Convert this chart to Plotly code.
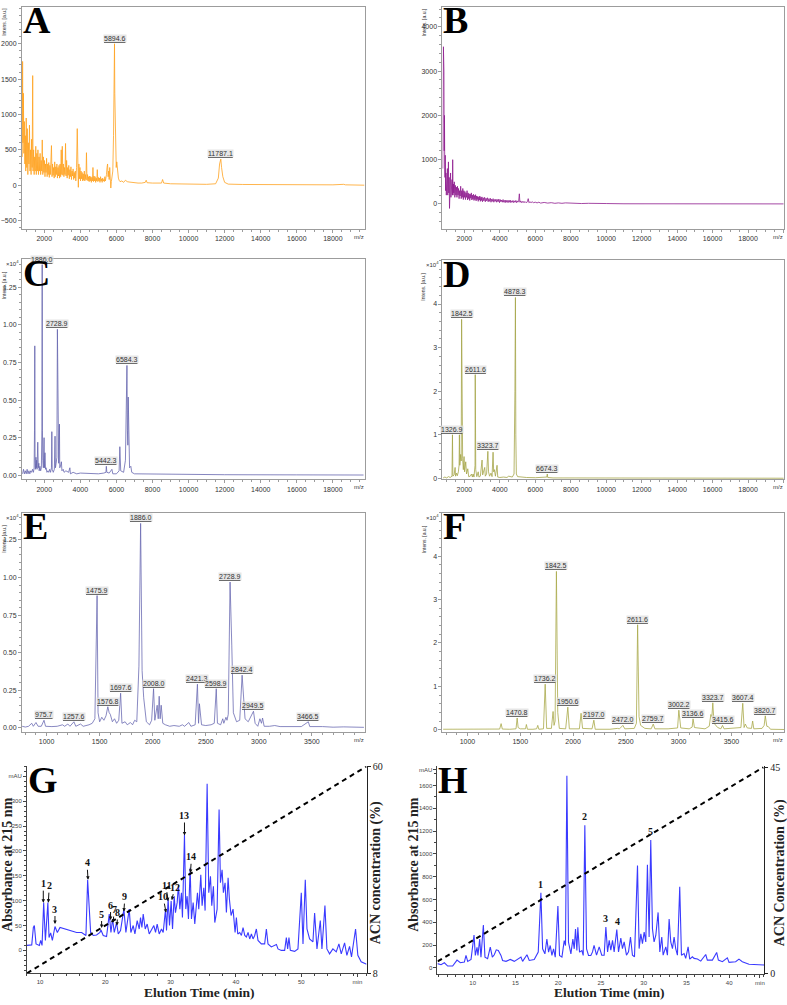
import plotly.graph_objects as go

# ---------------- data ----------------
# MALDI spectra: (m/z, intensity) pairs
A_SPEC = [(780,400),(800,1750),(820,600),(845,1300),(870,450),(900,900),(925,300),(950,700),(975,200),(1000,950),(1030,250),(1060,800),(1090,150),(1120,600),(1150,300),(1180,850),(1210,200),(1240,500),(1270,150),(1300,650),(1330,250),(1360,1550),(1380,200),(1410,500),(1440,150),(1470,400),(1500,200),(1530,550),(1560,150),(1590,450),(1620,200),(1650,500),(1680,150),(1710,400),(1740,200),(1770,450),(1800,150),(1830,350),(1860,200),(1890,640),(1920,150),(1950,400),(1980,180),(2010,350),(2040,120),(2070,300),(2100,180),(2130,380),(2160,120),(2190,300),(2220,150),(2250,320),(2280,110),(2310,280),(2340,150),(2370,300),(2400,560),(2430,120),(2460,300),(2490,140),(2520,250),(2550,100),(2580,330),(2610,120),(2640,260),(2670,150),(2700,300),(2730,100),(2760,250),(2790,130),(2820,280),(2850,100),(2880,300),(2910,120),(2940,500),(2970,150),(3000,550),(3030,140),(3060,300),(3090,120),(3120,250),(3150,150),(3180,590),(3210,130),(3240,350),(3270,100),(3300,250),(3330,140),(3360,280),(3390,90),(3420,220),(3450,120),(3480,260),(3510,80),(3540,200),(3570,130),(3600,230),(3630,80),(3660,180),(3690,100),(3720,200),(3750,60),(3790,250),(3830,800),(3850,150),(3870,400),(3890,-30),(3920,300),(3950,90),(3980,250),(4010,60),(4040,200),(4070,90),(4100,180),(4130,60),(4160,160),(4190,70),(4220,200),(4250,60),(4280,150),(4310,80),(4340,460),(4370,70),(4400,150),(4430,60),(4460,120),(4490,50),(4520,130),(4550,60),(4580,120),(4610,40),(4640,110),(4670,60),(4700,250),(4730,50),(4760,130),(4790,60),(4820,120),(4850,40),(4880,100),(4910,60),(4940,220),(4970,50),(5000,110),(5030,60),(5060,100),(5090,40),(5120,120),(5150,60),(5180,90),(5210,40),(5240,100),(5270,60),(5300,80),(5330,50),(5360,120),(5390,60),(5420,100),(5450,150),(5480,250),(5510,300),(5540,120),(5570,200),(5600,80),(5630,250),(5660,100),(5690,-40),(5720,50),(5760,100),(5800,200),(5840,700),(5870,1500),(5895,2000),(5910,1300),(5935,800),(5960,400),(5990,250),(6020,330),(6050,200),(6080,150),(6110,100),(6150,70),(6200,50),(6300,60),(6400,40),(6500,70),(6600,50),(6700,45),(6800,40),(7000,35),(7200,30),(7400,30),(7600,40),(7650,70),(7700,35),(8000,30),(8300,25),(8500,30),(8560,80),(8620,30),(9000,20),(10000,15),(11000,12),(11500,20),(11650,100),(11720,300),(11787,370),(11830,250),(11900,120),(12000,40),(12200,15),(13000,10),(14000,8),(16000,5),(18000,5),(18600,12),(18700,5),(19750,0)]
A_LABELS = [5894.6, 11787.1]
A_LABEL_Y = [2000, 370]

B_SPEC = [(780,800),(800,1800),(815,3550),(830,2900),(845,3000),(860,1200),(875,2000),(890,900),(905,600),(920,1100),(940,300),(960,700),(980,200),(1000,650),(1020,350),(1040,800),(1060,200),(1080,500),(1100,950),(1120,250),(1140,600),(1160,-100),(1180,500),(1200,300),(1220,700),(1240,150),(1260,450),(1280,250),(1300,550),(1320,200),(1340,1000),(1360,200),(1380,450),(1400,250),(1430,500),(1460,150),(1490,420),(1520,200),(1550,380),(1580,150),(1610,400),(1640,200),(1670,350),(1700,120),(1730,300),(1760,180),(1790,400),(1820,120),(1850,300),(1880,150),(1910,350),(1940,100),(1970,300),(2000,150),(2030,280),(2060,100),(2090,250),(2120,150),(2150,300),(2180,90),(2210,250),(2240,120),(2270,230),(2300,80),(2330,220),(2360,130),(2390,250),(2420,90),(2450,200),(2480,110),(2510,220),(2540,80),(2570,190),(2600,100),(2630,210),(2660,70),(2690,180),(2720,100),(2750,170),(2780,60),(2810,160),(2840,90),(2870,180),(2900,60),(2930,150),(2960,80),(2990,160),(3020,50),(3060,140),(3100,70),(3140,150),(3180,50),(3220,130),(3260,70),(3300,140),(3340,50),(3380,120),(3420,60),(3460,130),(3500,40),(3540,110),(3580,60),(3620,120),(3660,40),(3700,100),(3740,60),(3780,110),(3820,40),(3860,100),(3900,50),(3940,110),(3980,30),(4020,100),(4060,50),(4100,90),(4140,40),(4180,100),(4220,40),(4260,80),(4300,30),(4340,90),(4380,40),(4420,80),(4460,30),(4500,80),(4540,40),(4580,90),(4620,30),(4660,70),(4700,40),(4740,80),(4780,30),(4820,70),(4860,40),(4900,80),(4940,30),(4980,70),(5020,40),(5060,60),(5100,230),(5130,40),(5170,70),(5210,30),(5260,60),(5310,30),(5360,60),(5410,30),(5460,50),(5510,30),(5560,60),(5600,120),(5640,30),(5700,50),(5760,30),(5820,50),(5900,30),(6000,40),(6100,25),(6200,40),(6300,20),(6500,35),(6700,20),(6900,30),(7100,15),(7300,25),(7500,15),(7700,25),(8000,15),(8300,20),(8600,10),(9000,15),(9500,8),(10000,10),(11000,5),(12000,6),(14000,3),(16000,3),(18000,2),(20000,2)]

C_SPEC = [(800,0.01),(850,0.04),(900,0.01),(950,0.03),(1000,0.01),(1050,0.04),(1100,0.01),(1150,0.03),(1200,0.01),(1250,0.03),(1300,0.02),(1350,0.04),(1400,0.02),(1440,0.05),(1460,0.3),(1475.9,0.86),(1490,0.1),(1510,0.04),(1540,0.12),(1560,0.05),(1580,0.1),(1600,0.04),(1640,0.22),(1670,0.05),(1700,0.08),(1720,0.03),(1760,0.06),(1800,0.03),(1840,0.05),(1870,0.3),(1886,1.40),(1900,0.3),(1920,0.1),(1950,0.05),(1990,0.25),(2010,0.05),(2040,0.15),(2070,0.04),(2100,0.05),(2150,0.02),(2200,0.03),(2250,0.02),(2300,0.04),(2350,0.02),(2400,0.05),(2421,0.29),(2440,0.04),(2500,0.02),(2560,0.04),(2598,0.26),(2620,0.05),(2660,0.08),(2700,0.12),(2729,0.97),(2745,0.57),(2770,0.1),(2800,0.08),(2842,0.34),(2860,0.05),(2900,0.06),(2950,0.09),(2980,0.03),(3050,0.04),(3100,0.02),(3200,0.03),(3350,0.02),(3420,0.05),(3450,0.01),(3600,0.02),(3800,0.01),(4000,0.015),(4500,0.01),(5000,0.01),(5300,0.015),(5420,0.02),(5442,0.06),(5470,0.02),(5600,0.015),(5750,0.04),(5800,0.01),(6000,0.01),(6150,0.03),(6190,0.19),(6240,0.03),(6400,0.02),(6500,0.1),(6560,0.5),(6584,0.73),(6610,0.3),(6635,0.2),(6655,0.52),(6690,0.2),(6730,0.05),(6800,0.06),(6850,0.02),(7000,0.01),(8000,0.008),(8500,0.01),(9000,0.005),(12000,0.004),(16000,0.003),(19700,0.002)]
C_LABELS = [1886.0, 2728.9, 5442.3, 6584.3]
C_LABEL_Y = [1.40, 0.97, 0.06, 0.73]

D_SPEC = [(800,0.01),(900,0.03),(1000,0.01),(1100,0.04),(1200,0.02),(1300,0.05),(1326.9,1.0),(1350,0.05),(1420,0.08),(1476,0.25),(1500,0.05),(1560,0.12),(1600,0.06),(1660,0.15),(1700,0.3),(1719,1.0),(1740,0.3),(1790,0.55),(1820,0.4),(1842.5,3.65),(1870,0.5),(1900,0.45),(1940,0.2),(1980,0.5),(2010,0.15),(2075,0.38),(2120,0.1),(2190,0.22),(2240,0.04),(2330,0.05),(2400,0.1),(2450,0.03),(2490,0.1),(2540,0.03),(2600,0.3),(2611.6,2.38),(2640,0.2),(2700,0.04),(2780,0.15),(2820,0.03),(2900,0.05),(2997,0.42),(3030,0.08),(3146,0.25),(3180,0.05),(3250,0.1),(3323.7,0.62),(3360,0.15),(3420,0.05),(3500,0.12),(3560,0.04),(3617,0.6),(3650,0.15),(3690,0.2),(3750,0.05),(3842,0.3),(3880,0.03),(4000,0.02),(4200,0.03),(4400,0.02),(4500,0.05),(4700,0.03),(4800,0.1),(4850,2.0),(4878.3,4.15),(4900,1.0),(4930,0.1),(5000,0.04),(5200,0.03),(5500,0.02),(6000,0.015),(6500,0.02),(6650,0.03),(6674.3,0.1),(6700,0.02),(7000,0.01),(8000,0.01),(10000,0.008),(14000,0.005),(20000,0.003)]
D_LABELS = [1326.9, 1842.5, 2611.6, 3323.7, 4878.3, 6674.3]
D_LABEL_Y = [1.0, 3.65, 2.38, 0.62, 4.15, 0.1]

E_SPEC = [(770,0.01),(800,0.005),(830,0.01),(860,0.03),(875,0.01),(900,0.035),(920,0.01),(950,0.01),(975.7,0.05),(990,0.01),(1050,0.008),(1100,0.01),(1150,0.02),(1170,0.01),(1200,0.025),(1220,0.01),(1257.6,0.04),(1275,0.01),(1320,0.025),(1345,0.01),(1400,0.02),(1430,0.03),(1455,0.06),(1475.9,0.88),(1485,0.1),(1500,0.04),(1520,0.07),(1540,0.05),(1560,0.08),(1576.8,0.14),(1590,0.1),(1600,0.09),(1620,0.04),(1640,0.06),(1660,0.03),(1680,0.05),(1697.6,0.23),(1710,0.03),(1740,0.04),(1760,0.02),(1790,0.035),(1810,0.02),(1830,0.05),(1850,0.04),(1870,0.41),(1886.0,1.36),(1900,0.38),(1915,0.2),(1940,0.04),(1970,0.02),(1990,0.05),(2008.0,0.26),(2020,0.05),(2042,0.15),(2052,0.06),(2061,0.21),(2070,0.06),(2080,0.15),(2095,0.03),(2120,0.02),(2160,0.01),(2200,0.015),(2250,0.01),(2280,0.02),(2300,0.01),(2340,0.035),(2360,0.01),(2400,0.02),(2421.3,0.29),(2432,0.03),(2440,0.16),(2460,0.02),(2500,0.015),(2550,0.02),(2580,0.03),(2598.9,0.26),(2610,0.03),(2640,0.02),(2660,0.06),(2670,0.03),(2690,0.07),(2700,0.05),(2712,0.09),(2728.9,0.97),(2745,0.55),(2760,0.1),(2790,0.04),(2820,0.05),(2842.4,0.35),(2855,0.21),(2870,0.06),(2900,0.04),(2949.5,0.11),(2965,0.03),(2990,0.01),(3010,0.06),(3025,0.03),(3035,0.065),(3050,0.01),(3100,0.01),(3150,0.015),(3200,0.008),(3300,0.01),(3400,0.008),(3466.5,0.04),(3480,0.008),(3600,0.008),(3700,0.004),(3800,0.006),(3990,0.003)]
E_LABELS = [975.7, 1257.6, 1475.9, 1576.8, 1697.6, 1886.0, 2008.0, 2421.3, 2598.9, 2728.9, 2842.4, 2949.5, 3466.5]
E_LABEL_Y = [0.05, 0.04, 0.88, 0.14, 0.23, 1.36, 0.26, 0.29, 0.26, 0.97, 0.35, 0.11, 0.04]

F_SPEC = [(770,0.01),(900,0.01),(1000,0.005),(1100,0.01),(1200,0.01),(1305,0.015),(1319,0.14),(1330,0.015),(1400,0.01),(1460,0.02),(1470.8,0.27),(1480,0.05),(1500,0.02),(1550,0.02),(1558,0.12),(1568,0.01),(1620,0.01),(1655,0.02),(1666,0.1),(1676,0.01),(1720,0.02),(1736.2,1.05),(1750,0.03),(1795,0.03),(1811,0.42),(1820,0.1),(1830,0.2),(1842.5,3.65),(1855,0.4),(1870,0.03),(1930,0.02),(1950.6,0.52),(1965,0.02),(2060,0.02),(2076,0.38),(2090,0.03),(2180,0.02),(2197.0,0.22),(2210,0.01),(2350,0.01),(2420,0.03),(2440,0.02),(2472.0,0.1),(2490,0.02),(2580,0.03),(2600,0.15),(2611.6,2.42),(2625,0.3),(2640,0.1),(2680,0.03),(2740,0.02),(2759.7,0.13),(2775,0.02),(2900,0.02),(2990,0.04),(3002.2,0.45),(3020,0.04),(3100,0.02),(3128,0.06),(3136.6,0.25),(3150,0.05),(3250,0.02),(3290,0.08),(3305,0.35),(3315,0.3),(3323.7,0.62),(3335,0.15),(3350,0.1),(3370,0.05),(3400,0.02),(3415.6,0.1),(3430,0.02),(3550,0.03),(3590,0.05),(3607.4,0.61),(3620,0.05),(3632,0.13),(3650,0.04),(3690,0.03),(3701,0.2),(3712,0.02),(3790,0.03),(3810,0.1),(3820.7,0.32),(3835,0.08),(3850,0.07),(3870,0.01),(3998,0.005)]
F_LABELS = [1470.8, 1736.2, 1842.5, 1950.6, 2197.0, 2472.0, 2611.6, 2759.7, 3002.2, 3136.6, 3323.7, 3415.6, 3607.4, 3820.7]
F_LABEL_Y = [0.27, 1.05, 3.65, 0.52, 0.22, 0.1, 2.42, 0.13, 0.45, 0.25, 0.62, 0.1, 0.61, 0.32]

# RP-HPLC chromatograms: (time min, absorbance mAU) pairs
G_CHROM = [(8.0,10),(8.22,10),(8.73,11),(8.98,46),(9.13,50),(9.39,13),(9.9,10),(10.1,20),(10.31,10),(10.56,96),(10.82,20),(11.2,96),(11.38,26),(11.63,35),(11.89,20),(12.29,48),(12.65,36),(13.06,46),(13.57,44),(14.08,43),(14.84,40),(15.61,36),(16.37,36),(16.63,33),(17.03,30),(17.29,142),(17.54,76),(17.75,36),(18.15,30),(18.66,31),(19.17,36),(19.33,41),(19.68,30),(20.19,28),(20.6,73),(20.86,36),(21.11,63),(21.37,36),(21.72,56),(21.98,33),(22.33,40),(22.84,83),(23.15,36),(23.66,83),(23.91,36),(24.27,50),(24.53,33),(24.88,60),(25.19,43),(25.39,66),(25.6,46),(25.8,73),(26.11,43),(26.41,53),(26.72,33),(27.07,43),(27.43,50),(27.69,36),(27.94,53),(28.25,33),(28.6,43),(28.86,36),(29.22,83),(29.37,40),(29.62,103),(29.83,50),(30.08,99),(30.29,43),(30.54,109),(30.74,76),(31.0,96),(31.2,132),(31.41,83),(31.66,116),(31.81,66),(32.12,232),(32.32,83),(32.53,109),(32.73,63),(32.99,166),(33.19,63),(33.45,96),(33.7,53),(34.11,116),(34.31,83),(34.62,152),(34.82,90),(35.08,126),(35.28,80),(35.59,335),(35.84,116),(36.1,149),(36.3,90),(36.55,129),(36.76,56),(37.12,83),(37.42,283),(37.63,136),(37.88,162),(38.08,116),(38.34,136),(38.54,76),(38.8,146),(39.0,103),(39.26,70),(39.56,83),(39.87,36),(40.07,66),(40.28,33),(40.58,36),(40.84,30),(41.09,46),(41.35,30),(41.6,27),(41.86,36),(42.11,23),(42.37,33),(42.62,23),(42.87,30),(43.13,43),(43.38,20),(43.89,13),(44.4,13),(44.66,43),(44.91,13),(45.42,7),(45.93,10),(46.2,12),(46.44,3),(46.95,0),(47.46,0),(47.72,26),(47.92,3),(48.12,26),(48.33,0),(48.99,-2),(49.5,3),(50.01,116),(50.27,13),(50.62,142),(50.88,43),(51.28,23),(51.79,17),(52.05,75),(52.41,3),(52.92,60),(53.17,3),(53.63,90),(53.93,3),(54.34,-7),(54.85,3),(55.36,-3),(55.77,13),(56.13,-7),(56.64,15),(56.99,-10),(57.4,8),(57.7,-13),(58.32,43),(58.67,-10),(59.18,-23),(59.85,-28),(60.0,-28)]
G_GRAD_T = [8, 60]
G_GRAD_ACN = [8, 60]
G_PEAK_T = [10.5, 11.27, 12.29, 17.35, 19.43, 20.8, 21.2, 21.77, 22.84, 29.3, 29.6, 30.18, 32.12, 33.04]
G_PEAK_MAU = [96, 96, 53, 142, 45, 61, 56, 50, 78, 76, 99, 101, 231, 156]
G_PEAK_TEXT = ['1', '2', '3', '4', '5', '6', '7', '8', '9', '10', '11', '12', '13', '14']

H_CHROM = [(5.88,38),(6.3,29),(6.69,46),(7.08,17),(7.66,17),(8.17,69),(8.56,46),(9.03,52),(9.22,110),(9.42,58),(9.81,75),(10.16,289),(10.31,110),(10.51,180),(10.62,110),(10.82,254),(10.97,95),(11.25,376),(11.44,95),(11.75,81),(12.06,182),(12.3,95),(12.53,116),(12.76,159),(13.0,153),(13.31,110),(13.5,66),(13.9,58),(14.4,75),(14.87,58),(15.65,95),(15.84,58),(16.35,116),(16.62,66),(17.2,75),(17.67,139),(17.98,660),(18.18,168),(18.45,124),(18.68,254),(18.88,139),(19.07,197),(19.27,110),(19.46,168),(19.66,95),(19.97,543),(20.16,110),(20.44,95),(20.71,240),(20.86,197),(21.02,1684),(21.21,225),(21.49,124),(21.72,254),(21.88,168),(22.03,341),(22.19,153),(22.3,356),(22.5,139),(22.77,153),(22.93,110),(23.12,1251),(23.32,168),(23.55,110),(23.82,110),(24.02,141),(24.2,199),(24.49,112),(24.8,185),(25.1,112),(25.38,112),(25.58,358),(25.78,141),(25.97,242),(26.16,156),(26.36,242),(26.55,141),(26.86,337),(27.06,141),(27.33,262),(27.52,170),(27.72,228),(27.99,112),(28.23,141),(28.46,271),(28.69,112),(28.93,98),(29.28,897),(29.47,170),(29.67,300),(29.86,213),(30.06,314),(30.25,228),(30.44,905),(30.64,271),(30.83,1122),(31.03,343),(31.22,228),(31.42,285),(31.69,487),(31.89,141),(32.12,271),(32.28,112),(32.59,185),(32.78,112),(32.98,430),(33.17,228),(33.37,170),(33.56,271),(33.75,170),(33.95,112),(34.22,712),(34.42,112),(34.73,127),(34.92,84),(35.2,185),(35.39,78),(35.7,98),(35.9,84),(36.29,78),(36.68,60),(37.26,118),(37.45,69),(38.04,69),(38.54,136),(38.74,69),(39.21,55),(39.79,89),(39.99,49),(40.76,55),(41.15,78),(41.54,55),(42.32,32),(43.1,32),(43.88,26),(44.08,26)]
H_GRAD_T = [5.9, 44.0]
H_GRAD_ACN = [2.6, 45]
H_PEAK_T = [17.98, 23.12, 25.58, 26.95, 30.83]
H_PEAK_MAU = [660, 1251, 358, 337, 1122]
H_PEAK_TEXT = ['1', '2', '3', '4', '5']

# ---------------- layout helpers ----------------
W, HT = 787, 1005
SANS = 'Liberation Sans'
SERIF = 'Liberation Serif'


def fx(p):
    return p / W


def fy(p):
    return 1 - p / HT


fig = go.Figure()
layout = dict(width=W, height=HT, margin=dict(l=0, r=0, t=0, b=0),
              paper_bgcolor='white', plot_bgcolor='white', showlegend=False)
ann = []


def ref(kind, i):
    return kind if i == 1 else f'{kind}{i}'


def ms_panel(i, spec, color, box, xr, yr, xdt, xmin, ytv, ymin, yfmt,
             labels, label_y, letter, exp10, side):
    x0, y0, x1, y1 = box
    fig.add_trace(go.Scatter(x=[p[0] for p in spec], y=[p[1] for p in spec],
                             mode='lines', line=dict(color=color, width=0.8),
                             xaxis=ref('x', i), yaxis=ref('y', i), hoverinfo='skip'))
    axcol = '#9c9c9c'
    common = dict(showline=True, mirror=True, linecolor=axcol, linewidth=1,
                  ticks='outside', ticklen=3, tickwidth=1, tickcolor=axcol,
                  showgrid=False, zeroline=False,
                  tickfont=dict(family=SANS, size=7, color='#333'))
    layout[ref('xaxis', i)] = dict(common, domain=[fx(x0), fx(x1)], range=xr,
                                   anchor=ref('y', i), dtick=xdt, tick0=0, tickformat='d',
                                   minor=dict(ticks='outside', ticklen=2, dtick=xmin,
                                              tick0=0, tickcolor=axcol, showgrid=False))
    layout[ref('yaxis', i)] = dict(common, domain=[fy(y1), fy(y0)], range=yr,
                                   anchor=ref('x', i), tickvals=ytv, tickformat=yfmt,
                                   minor=dict(ticks='outside', ticklen=2, dtick=ymin,
                                              tick0=0, tickcolor=axcol, showgrid=False))
    for mz, h in zip(labels, label_y):
        ann.append(dict(x=mz, y=h, xref=ref('x', i), yref=ref('y', i),
                        text=f'<u>{mz:.1f}</u>', showarrow=False, yanchor='bottom',
                        yshift=1, bgcolor='rgba(222,222,222,0.75)', borderpad=0,
                        font=dict(family=SANS, size=7, color='#333')))
    # panel letter
    ann.append(dict(x=fx(x0 - 1), y=fy(y0 - 10), xref='paper', yref='paper',
                    xanchor='left', yanchor='top', showarrow=False,
                    text=f'<b>{letter}</b>',
                    font=dict(family=SERIF, size=38, color='black')))
    # y title
    tx = 4 if side == 'L' else 424
    ann.append(dict(x=fx(tx), y=fy(y0 + (26 if exp10 else 15)), xref='paper', yref='paper',
                    xanchor='center', yanchor='middle', showarrow=False, textangle=-90,
                    text='Intens. [a.u.]', font=dict(family=SANS, size=5, color='#333')))
    if exp10:
        ann.append(dict(x=fx(x0 - 1), y=fy(y0 + 4), xref='paper', yref='paper',
                        xanchor='right', yanchor='middle', showarrow=False,
                        text='×10<sup>4</sup>', font=dict(family=SANS, size=6, color='#333')))
    ann.append(dict(x=fx(x1 - 6), y=fy(y1 + 8), xref='paper', yref='paper',
                    xanchor='center', yanchor='middle', showarrow=False,
                    text='m/z', font=dict(family=SANS, size=6, color='#333')))


ms_panel(1, A_SPEC, '#FFA21F', (22, 2, 365, 226), [765, 19755], [-616, 2520],
         2000, 500, [-500, 0, 500, 1000, 1500, 2000], 100, 'd', A_LABELS, A_LABEL_Y, 'A', False, 'L')
ms_panel(2, B_SPEC, '#8E1A8E', (443, 2, 785, 226), [761, 20028], [-559, 4447],
         2000, 500, [0, 1000, 2000, 3000, 4000], 200, 'd', [], [], 'B', False, 'R')
ms_panel(3, C_SPEC, '#6666AE', (22, 257, 365, 479), [765, 19755], [-0.026, 1.434],
         2000, 500, [0, 0.25, 0.5, 0.75, 1.0, 1.25], 0.05, '.2f', C_LABELS, C_LABEL_Y, 'C', True, 'L')
ms_panel(4, D_SPEC, '#A5A548', (443, 258, 785, 479), [761, 20028], [-0.02, 5.0],
         2000, 500, [0, 1, 2, 3, 4], 0.2, 'd', D_LABELS, D_LABEL_Y, 'D', True, 'R')
ms_panel(5, E_SPEC, '#6B6BB3', (22, 513, 365, 734), [768, 3996], [-0.026, 1.43],
         500, 100, [0, 0.25, 0.5, 0.75, 1.0, 1.25], 0.05, '.2f', E_LABELS, E_LABEL_Y, 'E', True, 'L')
ms_panel(6, F_SPEC, '#A9A94A', (443, 513, 785, 734), [763, 3998], [-0.046, 5.0],
         500, 100, [0, 1, 2, 3, 4], 0.2, 'd', F_LABELS, F_LABEL_Y, 'F', True, 'R')


def lc_panel(i, j, chrom, grad_t, grad_acn, box, xr, yr, y2r, xtv, xtt, xmin,
             ytv, ytt, ymin, y2tv, letter, peaks_t, peaks_y, peaks_txt, arrows,
             acn_title, absx, elux, acnx):
    x0, y0, x1, y1 = box
    fig.add_trace(go.Scatter(x=[p[0] for p in chrom], y=[p[1] for p in chrom], mode='lines',
                             line=dict(color='#3A3AFF', width=1.1),
                             xaxis=ref('x', i), yaxis=ref('y', i), hoverinfo='skip'))
    fig.add_trace(go.Scatter(x=grad_t, y=grad_acn, mode='lines',
                             line=dict(color='black', width=2, dash='5px,4px'),
                             xaxis=ref('x', i), yaxis=ref('y', j), hoverinfo='skip'))
    axc = '#444'
    tf = dict(family=SANS, size=6, color='#444')
    layout[ref('xaxis', i)] = dict(domain=[fx(x0), fx(x1)], range=xr, anchor=ref('y', i),
                                   showline=True, linecolor=axc, linewidth=1, ticks='outside',
                                   ticklen=3, tickcolor=axc, tickvals=xtv, ticktext=xtt,
                                   showgrid=False, zeroline=False, tickfont=tf,
                                   minor=dict(ticks='outside', ticklen=2, dtick=xmin, tick0=0,
                                              tickcolor=axc, showgrid=False))
    layout[ref('yaxis', i)] = dict(domain=[fy(y1), fy(y0)], range=yr, anchor=ref('x', i),
                                   showline=True, linecolor=axc, linewidth=1, ticks='outside',
                                   ticklen=3, tickcolor=axc, tickvals=ytv, ticktext=ytt,
                                   showgrid=False, zeroline=False, tickfont=tf,
                                   minor=dict(ticks='outside', ticklen=2, dtick=ymin, tick0=0,
                                              tickcolor=axc, showgrid=False))
    layout[ref('yaxis', j)] = dict(domain=[fy(y1), fy(y0)], range=y2r, anchor=ref('x', i),
                                   overlaying=ref('y', i), side='right', showline=True,
                                   linecolor='#222', linewidth=1.2, ticks='outside', ticklen=3,
                                   tickcolor='#222', tickvals=y2tv,
                                   ticktext=[str(v) for v in y2tv], showgrid=False,
                                   zeroline=False,
                                   tickfont=dict(family=SERIF, size=10, color='#222'))
    ann.append(dict(x=fx(x0 - 1), y=fy(y0 - 9), xref='paper', yref='paper',
                    xanchor='left', yanchor='top', showarrow=False, text=f'<b>{letter}</b>',
                    font=dict(family=SERIF, size=38, color='black')))
    ann.append(dict(x=fx(absx), y=fy((y0 + y1) / 2 - 6), xref='paper', yref='paper',
                    xanchor='center', yanchor='middle', showarrow=False, textangle=-90,
                    text='<b>Absorbance at 215 nm</b>',
                    font=dict(family=SERIF, size=14, color='#222')))
    ann.append(dict(x=fx(elux), y=fy(997), xref='paper', yref='paper',
                    xanchor='center', yanchor='middle', showarrow=False,
                    text='<b>Elution Time (min)</b>',
                    font=dict(family=SERIF, size=13.5, color='#222')))
    ann.append(dict(x=fx(acnx), y=fy((y0 + y1) / 2 + 3), xref='paper', yref='paper',
                    xanchor='center', yanchor='middle', showarrow=False, textangle=-90,
                    text=f'<b>{acn_title}</b>',
                    font=dict(family=SERIF, size=14, color='#222')))
    for k, (t, yv, tx) in enumerate(zip(peaks_t, peaks_y, peaks_txt)):
        if arrows:
            dx, dy = arrows[k]
            ann.append(dict(x=t, y=yv, xref=ref('x', i), yref=ref('y', i), text=f'<b>{tx}</b>',
                            showarrow=True, arrowhead=2, arrowsize=0.7, arrowwidth=1,
                            arrowcolor='#111', ax=dx, ay=dy, standoff=0,
                            font=dict(family=SERIF, size=10, color='#111')))
        else:
            ann.append(dict(x=t, y=yv, xref=ref('x', i), yref=ref('y', i), text=f'<b>{tx}</b>',
                            showarrow=False, yanchor='bottom', yshift=1,
                            font=dict(family=SERIF, size=10, color='#111')))


G_ARROWS = [(0, -19), (1, -17), (0, -15), (-1, -17), (0, -14), (0, -15), (1, -13), (1, -13),
            (1, -15), (-3, -16), (-2, -16), (3, -13), (0, -20), (1, -16)]
lc_panel(7, 9, G_CHROM, G_GRAD_T, G_GRAD_ACN, (27, 769, 367, 978), [8, 60], [-46, 370],
         [8, 60], [10, 20, 30, 40, 50, 58.6], ['10', '20', '30', '40', '50', 'min'], 2,
         [0, 50, 100, 150, 200, 250, 300, 350], ['0', '50', '100', '150', '200', '250', '300', 'mAU'],
         10, [8, 60], 'G', G_PEAK_T, G_PEAK_MAU, G_PEAK_TEXT, G_ARROWS,
         'ACN concentration (%)', 8, 200, 376)
lc_panel(8, 10, H_CHROM, H_GRAD_T, H_GRAD_ACN, (438, 769, 765, 979), [5.88, 44.08], [-55, 1767],
         [-0.2, 45.2], [10, 15, 20, 25, 30, 35, 40, 43.6], ['10', '15', '20', '25', '30', '35', '40', 'min'], 1,
         [0, 200, 400, 600, 800, 1000, 1200, 1400, 1600, 1740],
         ['0', '200', '400', '600', '800', '1000', '1200', '1400', '1600', 'mAU'],
         100, [0, 45], 'H', H_PEAK_T, H_PEAK_MAU, H_PEAK_TEXT, None,
         'ACN Concentration (%)', 414, 610, 781)

layout['annotations'] = ann
fig.update_layout(**layout)
fig.write_html('out.html', config={'displayModeBar': False},
               post_script="document.body.style.margin='0';document.body.style.overflow='hidden';")
